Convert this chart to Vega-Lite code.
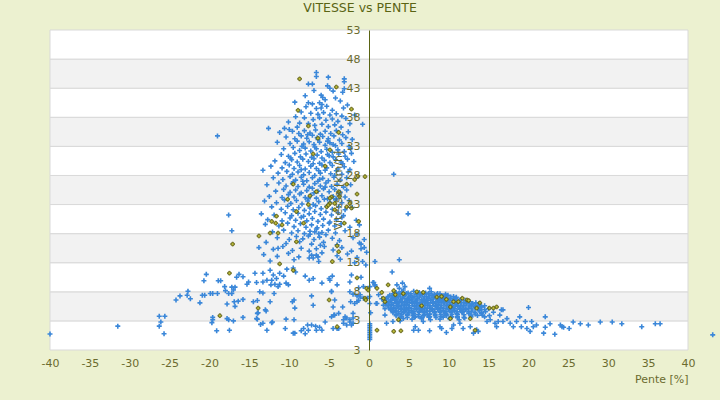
{
  "$schema": "https://vega.github.io/schema/vega-lite/v6.json",
  "width": 638,
  "height": 320,
  "autosize": {"type": "none"},
  "padding": {"left": 50, "top": 30, "right": 32, "bottom": 50},
  "background": "#ecf1d0",
  "title": {
    "text": "VITESSE vs PENTE",
    "font": "DejaVu Sans",
    "fontSize": 12.5,
    "fontWeight": "normal",
    "color": "#5a6414",
    "anchor": "middle",
    "dx": -9,
    "offset": 10
  },
  "config": {
    "view": {"stroke": null},
    "axis": {
      "labelFont": "DejaVu Sans",
      "labelFontSize": 11,
      "labelColor": "#6b6b2e",
      "labelOverlap": false,
      "titleFont": "DejaVu Sans",
      "titleFontSize": 11,
      "titleFontWeight": "normal",
      "titleColor": "#6b6b2e",
      "ticks": false,
      "grid": false
    },
    "axisX": {
      "domain": false,
      "labelFlush": false,
      "labelPadding": 7,
      "titleAnchor": "end",
      "titlePadding": 5
    },
    "axisY": {
      "domainColor": "#5a6414",
      "labelPadding": 9,
      "titlePadding": 3
    }
  },
  "datasets": {
    "bands": [
      {"lo": -2, "hi": 3, "k": "a"}, {"lo": 3, "hi": 8, "k": "b"},
      {"lo": 8, "hi": 13, "k": "a"}, {"lo": 13, "hi": 18, "k": "b"},
      {"lo": 18, "hi": 23, "k": "a"}, {"lo": 23, "hi": 28, "k": "b"},
      {"lo": 28, "hi": 33, "k": "a"}, {"lo": 33, "hi": 38, "k": "b"},
      {"lo": 38, "hi": 43, "k": "a"}, {"lo": 43, "hi": 48, "k": "b"},
      {"lo": 48, "hi": 53, "k": "a"}
    ],
    "blue": [
      {"p":-6.6,"v":45.7},{"p":-6.6,"v":45.0},{"p":-5.1,"v":44.9},{"p":-3.1,"v":44.6},{"p":-3.1,"v":44.1},{"p":-7.6,"v":43.7},{"p":-7.1,"v":43.7},
      {"p":-4.9,"v":43.0},{"p":-4.5,"v":42.5},{"p":-3.3,"v":42.3},{"p":-3.1,"v":42.9},{"p":-8.0,"v":41.7},{"p":-6.0,"v":41.8},{"p":-5.8,"v":41.4},{"p":-5.5,"v":41.0},{"p":-7.6,"v":40.5},{"p":-7.1,"v":40.3},{"p":-6.2,"v":40.5},{"p":-5.9,"v":40.2},{"p":-4.2,"v":41.3},{"p":-3.6,"v":40.8},{"p":-2.7,"v":40.1},{"p":-9.3,"v":40.6},{"p":-6.9,"v":42.6},{"p":-5.2,"v":43.4},
      {"p":-6.6,"v":39.5},{"p":-6.0,"v":39.6},{"p":-7.9,"v":39.8},{"p":-5.3,"v":39.9},{"p":-4.6,"v":39.2},{"p":-3.2,"v":39.6},{"p":-8.5,"v":38.9},{"p":-7.3,"v":38.7},{"p":-6.4,"v":38.5},{"p":-5.7,"v":38.8},{"p":-4.9,"v":38.4},{"p":-4.1,"v":38.6},{"p":-3.4,"v":38.2},{"p":-9.2,"v":38.1},{"p":-8.1,"v":37.9},{"p":-7.0,"v":37.6},{"p":-6.2,"v":37.9},{"p":-5.4,"v":37.5},{"p":-4.6,"v":37.7},{"p":-3.9,"v":37.3},{"p":-2.9,"v":37.8},{"p":-10.1,"v":37.2},{"p":-8.7,"v":37.0},{"p":-7.6,"v":36.9},{"p":-6.8,"v":36.6},{"p":-5.9,"v":36.8},{"p":-5.1,"v":36.4},{"p":-4.3,"v":36.7},{"p":-3.5,"v":36.3},{"p":-2.4,"v":36.9},{"p":-0.8,"v":36.8},{"p":-12.6,"v":36.1},{"p":-10.6,"v":36.1},{"p":-10.0,"v":35.9},{"p":-9.0,"v":36.3},{"p":-1.8,"v":38.4},
      {"p":-11.2,"v":35.4},{"p":-9.6,"v":35.6},{"p":-8.8,"v":35.2},{"p":-8.1,"v":35.7},{"p":-7.4,"v":35.3},{"p":-6.7,"v":35.8},{"p":-6.1,"v":35.1},{"p":-5.5,"v":35.6},{"p":-4.8,"v":35.2},{"p":-4.1,"v":35.7},{"p":-3.3,"v":35.0},{"p":-2.6,"v":35.5},{"p":-10.4,"v":34.6},{"p":-9.3,"v":34.3},{"p":-8.5,"v":34.8},{"p":-7.8,"v":34.4},{"p":-7.1,"v":34.9},{"p":-6.4,"v":34.2},{"p":-5.8,"v":34.7},{"p":-5.1,"v":34.3},{"p":-4.4,"v":34.8},{"p":-3.7,"v":34.1},{"p":-2.9,"v":34.5},{"p":-2.1,"v":34.2},{"p":-11.5,"v":33.7},{"p":-9.9,"v":33.5},{"p":-9.0,"v":33.9},{"p":-8.2,"v":33.4},{"p":-7.5,"v":33.8},{"p":-6.9,"v":33.3},{"p":-6.2,"v":33.7},{"p":-5.5,"v":33.2},{"p":-4.9,"v":33.6},{"p":-4.2,"v":33.1},{"p":-3.4,"v":33.5},{"p":-2.5,"v":33.0},{"p":-10.7,"v":32.6},{"p":-9.5,"v":32.8},{"p":-8.7,"v":32.3},{"p":-8.0,"v":32.7},{"p":-7.3,"v":32.2},{"p":-6.6,"v":32.6},{"p":-6.0,"v":32.1},{"p":-5.3,"v":32.5},{"p":-4.6,"v":32.0},{"p":-3.9,"v":32.4},{"p":-3.1,"v":32.1},{"p":-2.3,"v":32.6},{"p":-7.7,"v":35.0},{"p":-6.5,"v":34.5},{"p":-5.2,"v":33.9},{"p":-8.4,"v":33.0},{"p":-4.5,"v":33.3},{"p":-6.8,"v":32.9},
      {"p":-11.0,"v":31.6},{"p":-10.1,"v":31.3},{"p":-9.3,"v":31.8},{"p":-8.6,"v":31.2},{"p":-7.9,"v":31.7},{"p":-7.2,"v":31.1},{"p":-6.5,"v":31.5},{"p":-5.9,"v":31.0},{"p":-5.2,"v":31.6},{"p":-4.5,"v":31.2},{"p":-3.8,"v":31.7},{"p":-3.0,"v":31.3},{"p":-2.2,"v":31.8},{"p":-11.8,"v":30.5},{"p":-10.5,"v":30.2},{"p":-9.7,"v":30.7},{"p":-9.0,"v":30.3},{"p":-8.3,"v":30.8},{"p":-7.6,"v":30.4},{"p":-6.9,"v":30.9},{"p":-6.2,"v":30.1},{"p":-5.6,"v":30.6},{"p":-4.9,"v":30.2},{"p":-4.2,"v":30.7},{"p":-3.5,"v":30.3},{"p":-2.7,"v":30.8},{"p":-1.9,"v":30.4},{"p":-12.3,"v":29.6},{"p":-10.9,"v":29.3},{"p":-10.0,"v":29.8},{"p":-9.4,"v":29.2},{"p":-8.7,"v":29.7},{"p":-8.0,"v":29.1},{"p":-7.3,"v":29.6},{"p":-6.6,"v":29.2},{"p":-5.9,"v":29.8},{"p":-5.3,"v":29.3},{"p":-4.6,"v":29.7},{"p":-3.9,"v":29.1},{"p":-3.1,"v":29.5},{"p":-2.4,"v":29.0},{"p":-11.4,"v":28.4},{"p":-10.3,"v":28.7},{"p":-9.6,"v":28.2},{"p":-8.9,"v":28.6},{"p":-8.2,"v":28.1},{"p":-7.5,"v":28.5},{"p":-6.8,"v":28.0},{"p":-6.1,"v":28.4},{"p":-5.5,"v":28.9},{"p":-4.8,"v":28.3},{"p":-4.1,"v":28.8},{"p":-3.4,"v":28.2},{"p":-2.6,"v":28.6},{"p":-13.3,"v":28.9},{"p":-7.0,"v":30.0},{"p":-8.5,"v":29.0},{"p":-5.0,"v":31.4},{"p":-6.3,"v":28.8},{"p":-9.8,"v":31.0},{"p":-4.3,"v":28.0},{"p":-3.3,"v":30.0},{"p":3.1,"v":28.2},
      {"p":-12.0,"v":27.6},{"p":-10.8,"v":27.3},{"p":-9.9,"v":27.8},{"p":-9.2,"v":27.2},{"p":-8.5,"v":27.7},{"p":-7.8,"v":27.1},{"p":-7.1,"v":27.6},{"p":-6.4,"v":27.0},{"p":-5.8,"v":27.5},{"p":-5.1,"v":27.1},{"p":-4.4,"v":27.7},{"p":-3.6,"v":27.2},{"p":-2.8,"v":27.6},{"p":-12.8,"v":26.4},{"p":-11.3,"v":26.7},{"p":-10.4,"v":26.2},{"p":-9.6,"v":26.6},{"p":-8.9,"v":26.1},{"p":-8.2,"v":26.5},{"p":-7.5,"v":26.0},{"p":-6.8,"v":26.6},{"p":-6.1,"v":26.2},{"p":-5.4,"v":26.7},{"p":-4.7,"v":26.1},{"p":-4.0,"v":26.5},{"p":-3.2,"v":26.0},{"p":-2.3,"v":26.4},{"p":-11.7,"v":25.3},{"p":-10.7,"v":25.6},{"p":-9.9,"v":25.1},{"p":-9.2,"v":25.5},{"p":-8.5,"v":25.0},{"p":-7.8,"v":25.4},{"p":-7.1,"v":25.8},{"p":-6.4,"v":25.3},{"p":-5.7,"v":25.7},{"p":-5.0,"v":25.2},{"p":-4.3,"v":25.6},{"p":-3.6,"v":25.1},{"p":-2.8,"v":25.5},{"p":-12.5,"v":24.4},{"p":-10.9,"v":24.2},{"p":-10.1,"v":24.7},{"p":-9.4,"v":24.3},{"p":-8.7,"v":24.8},{"p":-8.0,"v":24.2},{"p":-7.3,"v":24.6},{"p":-6.6,"v":24.1},{"p":-5.9,"v":24.5},{"p":-5.2,"v":24.0},{"p":-4.5,"v":24.4},{"p":-3.8,"v":24.9},{"p":-3.0,"v":24.3},{"p":-6.9,"v":25.0},{"p":-8.3,"v":27.0},{"p":-5.5,"v":26.0},{"p":-7.6,"v":24.0},{"p":-9.5,"v":26.9},{"p":-4.1,"v":24.0},{"p":-6.2,"v":27.3},
      {"p":-13.1,"v":23.6},{"p":-11.6,"v":23.3},{"p":-10.6,"v":23.8},{"p":-9.8,"v":23.2},{"p":-9.1,"v":23.7},{"p":-8.4,"v":23.1},{"p":-7.7,"v":23.6},{"p":-7.0,"v":23.0},{"p":-6.3,"v":23.5},{"p":-5.6,"v":23.9},{"p":-4.9,"v":23.4},{"p":-4.2,"v":23.8},{"p":-3.4,"v":23.3},{"p":-2.5,"v":23.7},{"p":-12.2,"v":22.6},{"p":-11.0,"v":22.2},{"p":-10.2,"v":22.7},{"p":-9.5,"v":22.1},{"p":-8.8,"v":22.5},{"p":-8.1,"v":22.0},{"p":-7.4,"v":22.4},{"p":-6.7,"v":22.8},{"p":-6.0,"v":22.3},{"p":-5.3,"v":22.7},{"p":-4.6,"v":22.2},{"p":-3.8,"v":22.6},{"p":-3.0,"v":22.1},{"p":-2.1,"v":22.5},{"p":-13.5,"v":21.4},{"p":-11.9,"v":21.2},{"p":-10.5,"v":21.6},{"p":-9.7,"v":21.1},{"p":-8.9,"v":21.5},{"p":-8.2,"v":21.0},{"p":-7.5,"v":21.4},{"p":-6.8,"v":21.8},{"p":-6.1,"v":21.3},{"p":-5.4,"v":21.7},{"p":-4.7,"v":21.2},{"p":-3.9,"v":21.6},{"p":-3.2,"v":21.1},{"p":-12.7,"v":20.4},{"p":-10.9,"v":20.2},{"p":-9.9,"v":20.7},{"p":-9.2,"v":20.3},{"p":-8.5,"v":20.8},{"p":-7.8,"v":20.2},{"p":-7.1,"v":20.6},{"p":-6.4,"v":20.1},{"p":-5.7,"v":20.5},{"p":-4.9,"v":20.0},{"p":-4.1,"v":20.4},{"p":-3.4,"v":20.8},{"p":-1.6,"v":20.3},{"p":-17.6,"v":21.2},{"p":4.9,"v":21.4},
      {"p":-13.0,"v":19.6},{"p":-11.3,"v":19.3},{"p":-10.2,"v":19.8},{"p":-9.4,"v":19.2},{"p":-8.6,"v":19.7},{"p":-7.9,"v":19.1},{"p":-7.2,"v":19.5},{"p":-6.5,"v":19.0},{"p":-5.8,"v":19.4},{"p":-5.0,"v":19.8},{"p":-4.3,"v":19.3},{"p":-3.5,"v":19.7},{"p":-2.4,"v":19.1},{"p":-1.2,"v":19.5},{"p":-12.1,"v":18.3},{"p":-10.7,"v":18.6},{"p":-9.7,"v":18.1},{"p":-8.9,"v":18.5},{"p":-8.1,"v":18.0},{"p":-7.4,"v":18.4},{"p":-6.6,"v":18.8},{"p":-5.9,"v":18.2},{"p":-5.1,"v":18.6},{"p":-4.2,"v":18.1},{"p":-3.0,"v":18.5},{"p":-1.5,"v":18.0},{"p":-11.5,"v":17.3},{"p":-10.0,"v":17.0},{"p":-9.1,"v":17.5},{"p":-8.3,"v":17.1},{"p":-7.6,"v":17.6},{"p":-6.9,"v":17.0},{"p":-6.2,"v":17.4},{"p":-5.4,"v":17.8},{"p":-4.6,"v":17.2},{"p":-3.7,"v":16.8},{"p":-2.0,"v":17.3},{"p":-0.6,"v":17.0},{"p":-12.9,"v":16.5},{"p":-10.4,"v":16.3},{"p":-8.7,"v":16.6},{"p":-7.2,"v":16.2},{"p":-5.7,"v":16.5},{"p":-4.0,"v":16.1},{"p":-1.0,"v":16.2},{"p":-17.2,"v":18.5},{"p":-6.8,"v":18.3},{"p":-7.4,"v":17.9},{"p":-6.3,"v":18.0},
      {"p":-13.8,"v":15.6},{"p":-12.0,"v":15.3},{"p":-10.8,"v":15.8},{"p":-9.6,"v":15.1},{"p":-8.5,"v":15.5},{"p":-7.5,"v":15.0},{"p":-6.6,"v":15.4},{"p":-5.6,"v":15.8},{"p":-4.5,"v":15.2},{"p":-3.4,"v":15.6},{"p":-2.2,"v":15.0},{"p":-1.0,"v":15.4},{"p":-0.3,"v":14.8},{"p":-13.2,"v":14.4},{"p":-11.5,"v":14.1},{"p":-10.1,"v":14.6},{"p":-8.8,"v":14.0},{"p":-7.2,"v":14.3},{"p":-5.9,"v":14.7},{"p":-4.0,"v":14.2},{"p":-2.7,"v":14.5},{"p":-1.5,"v":13.9},{"p":-12.4,"v":13.3},{"p":-9.4,"v":13.5},{"p":-6.3,"v":13.2},{"p":-3.6,"v":13.6},{"p":-0.8,"v":13.2},
      {"p":-19.0,"v":34.8},{"p":-1.2,"v":16.4},{"p":-0.6,"v":15.6},{"p":-1.8,"v":13.0},{"p":-0.4,"v":12.6},{"p":-6.6,"v":14.3},{"p":-6.1,"v":16.0},{"p":-7.0,"v":13.8},{"p":-6.4,"v":14.0},{"p":-7.5,"v":13.8},{"p":-11.4,"v":15.5},
      {"p":-22.7,"v":8.1},{"p":-22.8,"v":7.4},{"p":-22.4,"v":6.8},{"p":-20.9,"v":7.4},{"p":-20.6,"v":7.4},{"p":-19.9,"v":7.7},{"p":-19.6,"v":7.7},{"p":-19.0,"v":7.7},{"p":-21.2,"v":6.1},{"p":-20.4,"v":11.0},{"p":-20.7,"v":9.9},{"p":-18.9,"v":9.9},{"p":-18.6,"v":9.9},{"p":-18.1,"v":8.9},{"p":-18.0,"v":8.2},{"p":-17.2,"v":8.8},{"p":-17.0,"v":8.3},{"p":-16.8,"v":8.8},{"p":-17.6,"v":7.7},{"p":-17.2,"v":7.7},{"p":-16.3,"v":11.0},{"p":-16.6,"v":10.5},{"p":-15.8,"v":10.6},{"p":-15.3,"v":9.3},{"p":-15.8,"v":6.7},{"p":-16.9,"v":6.3},{"p":-16.4,"v":6.4},
      {"p":-17.8,"v":5.9},{"p":-14.5,"v":6.3},{"p":-14.0,"v":6.5},{"p":-16.8,"v":5.5},{"p":-19.6,"v":3.6},{"p":-19.6,"v":3.2},{"p":-19.7,"v":2.7},{"p":-17.8,"v":3.4},{"p":-17.6,"v":3.2},{"p":-17.0,"v":3.0},{"p":-19.1,"v":1.3},{"p":-17.5,"v":1.4},{"p":-15.8,"v":3.6},{"p":-14.3,"v":11.2},{"p":-13.3,"v":11.2},{"p":-12.4,"v":11.7},{"p":-12.0,"v":10.9},{"p":-12.2,"v":10.0},{"p":-11.2,"v":11.2},{"p":-10.7,"v":10.7},{"p":-13.3,"v":9.7},{"p":-12.8,"v":10.0},{"p":-11.6,"v":10.3},{"p":-15.1,"v":9.7},{"p":-14.1,"v":9.6},{"p":-12.3,"v":9.2},{"p":-11.8,"v":9.3},{"p":-11.4,"v":8.9},{"p":-11.2,"v":9.3},{"p":-10.4,"v":9.5},{"p":-10.1,"v":9.2},{"p":-13.7,"v":8.0},{"p":-13.3,"v":7.8},{"p":-11.9,"v":7.7},{"p":-12.4,"v":6.3},{"p":-12.9,"v":4.7},{"p":-14.0,"v":4.3},{"p":-14.0,"v":3.3},{"p":-13.6,"v":2.4},{"p":-13.3,"v":2.6},{"p":-12.1,"v":2.8},{"p":-12.8,"v":1.4},{"p":-10.4,"v":3.3},{"p":-9.4,"v":3.2},{"p":-9.3,"v":5.2},{"p":-9.6,"v":6.3},{"p":-9.4,"v":6.6},{"p":-10.5,"v":1.7},{"p":-9.3,"v":0.9},{"p":-8.5,"v":1.3},{"p":-8.2,"v":1.7},{"p":-7.7,"v":2.3},{"p":-7.2,"v":2.3},{"p":-6.7,"v":2.1},{"p":-6.6,"v":1.4},{"p":-7.6,"v":1.4},
      {"p":-10.3,"v":11.9},{"p":-9.5,"v":12.1},{"p":-9.2,"v":11.4},{"p":-8.0,"v":10.7},{"p":-7.5,"v":10.0},{"p":-7.0,"v":10.3},{"p":-5.9,"v":9.5},{"p":-5.0,"v":10.3},{"p":-4.6,"v":10.7},{"p":-2.4,"v":9.7},{"p":-2.2,"v":10.9},{"p":-1.3,"v":8.7},{"p":-1.1,"v":7.5},{"p":-0.7,"v":8.9},{"p":-2.4,"v":8.0},{"p":-2.0,"v":7.6},{"p":-1.5,"v":7.3},{"p":-1.1,"v":7.1},{"p":-0.7,"v":6.9},{"p":-0.2,"v":6.9},{"p":-1.3,"v":6.5},
      {"p":-13.0,"v":4.9},{"p":-13.9,"v":4.4},{"p":-14.1,"v":3.4},{"p":-12.2,"v":2.7},{"p":-9.5,"v":0.9},{"p":-8.0,"v":0.8},{"p":-6.2,"v":1.9},{"p":-5.9,"v":1.4},{"p":-5.5,"v":2.8},{"p":-4.7,"v":3.7},{"p":-4.3,"v":4.0},{"p":-3.8,"v":1.7},{"p":-3.2,"v":3.2},{"p":-2.8,"v":3.5},{"p":-2.4,"v":2.8},{"p":-2.2,"v":2.3},{"p":-2.0,"v":3.5},{"p":-7.2,"v":7.3},{"p":-7.0,"v":5.7},{"p":-4.5,"v":5.4},{"p":-4.3,"v":6.6},{"p":-4.7,"v":8.1},{"p":-4.9,"v":10.0},
      {"p":-1.0,"v":10.5},{"p":0.5,"v":9.6},{"p":0.75,"v":9.0},{"p":-4.0,"v":9.2},{"p":-4.7,"v":8.0},{"p":-2.3,"v":6.3},{"p":-1.8,"v":6.0},{"p":-1.5,"v":6.3},{"p":-3.3,"v":5.4},{"p":-3.8,"v":4.3},{"p":-4.4,"v":4.0},{"p":-3.0,"v":3.7},{"p":-2.4,"v":3.2},{"p":-2.0,"v":2.6},{"p":-2.8,"v":2.3},{"p":-3.2,"v":2.6},{"p":-2.0,"v":4.3},{"p":-4.5,"v":1.7},{"p":-4.0,"v":1.7},
      {"p":-40.0,"v":0.75},{"p":-31.5,"v":2.1},{"p":-26.3,"v":3.8},{"p":-26.1,"v":2.8},{"p":-25.6,"v":3.8},{"p":-26.3,"v":2.1},{"p":-25.7,"v":0.8},{"p":-24.2,"v":6.6},{"p":-23.7,"v":7.3},
      {"p":0.75,"v":13.2},{"p":3.8,"v":13.5},{"p":2.9,"v":11.4},{"p":0.6,"v":9.6},{"p":0.75,"v":9.2},{"p":1.2,"v":7.5},{"p":1.0,"v":6.0},{"p":3.5,"v":9.2},{"p":4.2,"v":9.5},{"p":4.5,"v":8.9},{"p":3.8,"v":8.6},{"p":4.3,"v":8.3},{"p":7.6,"v":8.6},
      {"p":2.0,"v":4.0},{"p":2.2,"v":2.6},{"p":3.0,"v":2.9},{"p":3.9,"v":3.0},{"p":5.8,"v":2.0},{"p":5.6,"v":1.4},{"p":6.2,"v":1.4},{"p":6.8,"v":2.9},{"p":7.6,"v":1.3},{"p":8.9,"v":2.0},{"p":9.1,"v":1.7},{"p":9.7,"v":1.0},{"p":10.4,"v":1.7},{"p":10.6,"v":2.3},{"p":11.4,"v":2.6},{"p":11.8,"v":1.7},{"p":12.7,"v":2.0},{"p":13.1,"v":0.9},{"p":13.5,"v":1.5},{"p":13.7,"v":1.2},
      {"p":14.1,"v":4.3},{"p":14.5,"v":3.7},{"p":14.8,"v":2.9},{"p":15.2,"v":3.2},{"p":15.8,"v":2.6},{"p":16.0,"v":2.0},{"p":16.2,"v":2.9},{"p":16.6,"v":4.9},{"p":16.8,"v":4.9},{"p":16.4,"v":4.0},{"p":16.8,"v":2.9},{"p":17.3,"v":3.4},{"p":17.7,"v":2.6},{"p":18.1,"v":2.0},{"p":18.5,"v":2.9},{"p":18.9,"v":3.7},{"p":19.1,"v":2.0},{"p":19.6,"v":2.9},{"p":19.8,"v":1.7},{"p":20.4,"v":2.9},{"p":20.6,"v":2.0},{"p":20.0,"v":5.3},{"p":20.2,"v":1.2},{"p":21.0,"v":2.3},{"p":22.1,"v":3.7},{"p":22.1,"v":1.9},{"p":21.9,"v":0.9},{"p":22.7,"v":2.5},{"p":23.3,"v":0.7},{"p":24.0,"v":2.3},{"p":24.2,"v":2.0},{"p":24.4,"v":1.9},{"p":25.1,"v":1.7},{"p":25.6,"v":2.8},{"p":26.5,"v":2.5},{"p":27.5,"v":2.3},{"p":29.0,"v":2.8},{"p":30.5,"v":2.8},{"p":31.7,"v":2.5},{"p":34.2,"v":2.0},{"p":35.9,"v":2.5},{"p":36.5,"v":2.5},{"p":43.1,"v":0.6},
      {"p":0.1,"v":2.5},{"p":0.1,"v":2.2},{"p":0.1,"v":1.9},{"p":0.1,"v":1.6},{"p":0.1,"v":1.3},{"p":0.1,"v":1.0},{"p":0.1,"v":0.7},{"p":0.1,"v":0.4},{"p":0.1,"v":0.1},{"p":0.1,"v":-0.2},{"p":0.1,"v":7.2},{"p":0.1,"v":6.0},{"p":0.1,"v":8.9},{"p":0.9,"v":6.0},{"p":0.2,"v":4.4},
      {"p":3.4,"v":7.9},{"p":4.1,"v":8.0},{"p":4.9,"v":7.8},{"p":5.6,"v":8.1},{"p":6.3,"v":7.9},{"p":7.1,"v":7.8},{"p":7.8,"v":8.0},{"p":8.6,"v":7.7},
      {"p":3.0,"v":7.65},{"p":3.75,"v":7.7},{"p":4.5,"v":7.6},{"p":5.25,"v":7.65},{"p":6.0,"v":7.7},{"p":6.7,"v":7.6},{"p":7.45,"v":7.65},{"p":8.2,"v":7.6},{"p":8.9,"v":7.65},{"p":9.6,"v":7.6},
      {"p":2.6,"v":7.4},{"p":3.2,"v":7.3},{"p":3.9,"v":7.5},{"p":4.5,"v":7.4},{"p":5.2,"v":7.3},{"p":5.9,"v":7.5},{"p":6.5,"v":7.4},{"p":7.2,"v":7.2},{"p":7.9,"v":7.4},{"p":8.5,"v":7.5},{"p":9.2,"v":7.3},{"p":9.9,"v":7.4},{"p":10.6,"v":7.2},
      {"p":2.4,"v":7.15},{"p":3.05,"v":7.1},{"p":3.7,"v":7.15},{"p":4.35,"v":7.2},{"p":5.0,"v":7.1},{"p":5.65,"v":7.15},{"p":6.3,"v":7.1},{"p":6.95,"v":7.15},{"p":7.6,"v":7.1},{"p":8.25,"v":7.15},{"p":8.9,"v":7.1},{"p":9.55,"v":7.15},{"p":10.25,"v":7.1},{"p":10.95,"v":7.05},
      {"p":2.2,"v":6.9},{"p":2.9,"v":6.8},{"p":3.5,"v":7.0},{"p":4.2,"v":6.9},{"p":4.8,"v":6.8},{"p":5.5,"v":7.0},{"p":6.1,"v":6.9},{"p":6.8,"v":6.7},{"p":7.4,"v":6.9},{"p":8.1,"v":7.0},{"p":8.8,"v":6.8},{"p":9.5,"v":6.9},{"p":10.2,"v":6.8},{"p":10.9,"v":6.9},{"p":11.6,"v":6.7},
      {"p":2.05,"v":6.65},{"p":2.7,"v":6.6},{"p":3.35,"v":6.65},{"p":4.0,"v":6.7},{"p":4.65,"v":6.6},{"p":5.3,"v":6.65},{"p":5.95,"v":6.6},{"p":6.6,"v":6.65},{"p":7.25,"v":6.6},{"p":7.9,"v":6.65},{"p":8.6,"v":6.6},{"p":9.3,"v":6.65},{"p":10.0,"v":6.6},{"p":10.7,"v":6.65},{"p":11.4,"v":6.6},{"p":12.1,"v":6.55},
      {"p":1.9,"v":6.4},{"p":2.5,"v":6.3},{"p":3.2,"v":6.5},{"p":3.8,"v":6.4},{"p":4.5,"v":6.3},{"p":5.1,"v":6.5},{"p":5.8,"v":6.4},{"p":6.4,"v":6.2},{"p":7.1,"v":6.4},{"p":7.7,"v":6.5},{"p":8.4,"v":6.3},{"p":9.1,"v":6.4},{"p":9.8,"v":6.3},{"p":10.5,"v":6.5},{"p":11.2,"v":6.4},{"p":11.9,"v":6.2},{"p":12.6,"v":6.3},{"p":13.4,"v":6.1},
      {"p":2.2,"v":6.15},{"p":2.85,"v":6.1},{"p":3.5,"v":6.15},{"p":4.15,"v":6.2},{"p":4.8,"v":6.1},{"p":5.45,"v":6.15},{"p":6.1,"v":6.1},{"p":6.75,"v":6.15},{"p":7.4,"v":6.1},{"p":8.05,"v":6.15},{"p":8.75,"v":6.1},{"p":9.45,"v":6.15},{"p":10.15,"v":6.1},{"p":10.85,"v":6.15},{"p":11.55,"v":6.1},{"p":12.25,"v":6.05},{"p":13.0,"v":6.0},{"p":13.8,"v":5.95},
      {"p":2.1,"v":5.9},{"p":2.8,"v":5.8},{"p":3.4,"v":6.0},{"p":4.1,"v":5.9},{"p":4.7,"v":5.8},{"p":5.4,"v":6.0},{"p":6.0,"v":5.9},{"p":6.7,"v":5.7},{"p":7.3,"v":5.9},{"p":8.0,"v":6.0},{"p":8.7,"v":5.8},{"p":9.4,"v":5.9},{"p":10.1,"v":5.8},{"p":10.8,"v":5.9},{"p":11.5,"v":5.7},{"p":12.2,"v":5.9},{"p":12.9,"v":5.8},{"p":13.7,"v":5.7},{"p":14.5,"v":5.6},
      {"p":2.45,"v":5.65},{"p":3.1,"v":5.6},{"p":3.75,"v":5.65},{"p":4.4,"v":5.7},{"p":5.05,"v":5.6},{"p":5.7,"v":5.65},{"p":6.35,"v":5.6},{"p":7.0,"v":5.65},{"p":7.65,"v":5.6},{"p":8.35,"v":5.65},{"p":9.05,"v":5.6},{"p":9.75,"v":5.65},{"p":10.45,"v":5.6},{"p":11.15,"v":5.65},{"p":11.85,"v":5.6},{"p":12.55,"v":5.55},{"p":13.3,"v":5.5},{"p":14.1,"v":5.45},
      {"p":2.4,"v":5.4},{"p":3.1,"v":5.3},{"p":3.7,"v":5.5},{"p":4.4,"v":5.4},{"p":5.0,"v":5.3},{"p":5.7,"v":5.5},{"p":6.3,"v":5.4},{"p":7.0,"v":5.2},{"p":7.6,"v":5.4},{"p":8.3,"v":5.5},{"p":9.0,"v":5.3},{"p":9.7,"v":5.4},{"p":10.4,"v":5.3},{"p":11.1,"v":5.5},{"p":11.8,"v":5.4},{"p":12.5,"v":5.2},{"p":13.3,"v":5.3},{"p":14.1,"v":5.4},{"p":15.0,"v":5.1},
      {"p":2.75,"v":5.15},{"p":3.4,"v":5.1},{"p":4.05,"v":5.15},{"p":4.7,"v":5.2},{"p":5.35,"v":5.1},{"p":6.0,"v":5.15},{"p":6.65,"v":5.1},{"p":7.3,"v":5.15},{"p":7.95,"v":5.1},{"p":8.65,"v":5.15},{"p":9.35,"v":5.1},{"p":10.05,"v":5.15},{"p":10.75,"v":5.1},{"p":11.45,"v":5.15},{"p":12.15,"v":5.1},{"p":12.9,"v":5.05},{"p":13.7,"v":5.0},{"p":14.5,"v":4.95},
      {"p":2.7,"v":4.9},{"p":3.3,"v":4.8},{"p":4.0,"v":5.0},{"p":4.6,"v":4.9},{"p":5.3,"v":4.8},{"p":5.9,"v":5.0},{"p":6.6,"v":4.9},{"p":7.2,"v":4.7},{"p":7.9,"v":4.9},{"p":8.6,"v":5.0},{"p":9.3,"v":4.8},{"p":10.0,"v":4.9},{"p":10.7,"v":4.8},{"p":11.4,"v":5.0},{"p":12.1,"v":4.9},{"p":12.9,"v":4.7},{"p":13.8,"v":4.8},{"p":14.6,"v":4.6},{"p":15.6,"v":4.5},
      {"p":3.05,"v":4.65},{"p":3.7,"v":4.6},{"p":4.35,"v":4.65},{"p":5.0,"v":4.7},{"p":5.65,"v":4.6},{"p":6.3,"v":4.65},{"p":6.95,"v":4.6},{"p":7.6,"v":4.65},{"p":8.25,"v":4.6},{"p":8.95,"v":4.65},{"p":9.65,"v":4.6},{"p":10.35,"v":4.65},{"p":11.05,"v":4.6},{"p":11.75,"v":4.65},{"p":12.5,"v":4.55},{"p":13.3,"v":4.5},{"p":14.15,"v":4.45},
      {"p":3.0,"v":4.4},{"p":3.7,"v":4.3},{"p":4.3,"v":4.5},{"p":5.0,"v":4.4},{"p":5.6,"v":4.3},{"p":6.3,"v":4.5},{"p":6.9,"v":4.4},{"p":7.6,"v":4.2},{"p":8.2,"v":4.4},{"p":8.9,"v":4.5},{"p":9.6,"v":4.3},{"p":10.3,"v":4.4},{"p":11.0,"v":4.3},{"p":11.7,"v":4.5},{"p":12.5,"v":4.3},{"p":13.3,"v":4.2},{"p":14.2,"v":4.0},{"p":15.1,"v":3.9},
      {"p":3.4,"v":4.15},{"p":4.1,"v":4.1},{"p":4.8,"v":4.15},{"p":5.5,"v":4.2},{"p":6.2,"v":4.1},{"p":6.9,"v":4.15},{"p":7.6,"v":4.1},{"p":8.3,"v":4.15},{"p":9.0,"v":4.1},{"p":9.7,"v":4.15},{"p":10.4,"v":4.1},{"p":11.1,"v":4.15},{"p":11.9,"v":4.05},{"p":12.8,"v":4.0},{"p":13.6,"v":3.95},
      {"p":3.4,"v":3.9},{"p":4.1,"v":3.8},{"p":4.8,"v":4.0},{"p":5.5,"v":3.9},{"p":6.2,"v":3.8},{"p":6.9,"v":3.9},{"p":7.6,"v":3.7},{"p":8.3,"v":3.9},{"p":9.0,"v":3.8},{"p":9.7,"v":3.9},{"p":10.4,"v":3.7},{"p":11.1,"v":3.8},{"p":11.9,"v":3.6},{"p":12.8,"v":3.7},
      {"p":3.9,"v":3.65},{"p":4.8,"v":3.6},{"p":5.7,"v":3.65},{"p":6.6,"v":3.6},{"p":7.5,"v":3.65},{"p":8.4,"v":3.6},{"p":9.3,"v":3.65},{"p":10.2,"v":3.6},{"p":11.1,"v":3.55},{"p":12.0,"v":3.5},
      {"p":4.3,"v":3.4},{"p":5.4,"v":3.3},{"p":6.6,"v":3.4},{"p":7.7,"v":3.2},{"p":8.9,"v":3.3},{"p":10.1,"v":3.4},{"p":11.3,"v":3.2},
      {"p":3.0,"v":7.1},{"p":4.7,"v":7.7},{"p":6.0,"v":7.6},{"p":7.5,"v":7.7},{"p":9.6,"v":7.2},{"p":5.0,"v":6.6},{"p":7.0,"v":6.2},{"p":9.0,"v":6.6},{"p":11.0,"v":6.1},{"p":3.6,"v":5.6},{"p":6.5,"v":5.1},{"p":8.5,"v":5.6},{"p":10.6,"v":5.2},{"p":12.8,"v":5.6},{"p":4.5,"v":4.6},{"p":7.3,"v":4.1},{"p":9.5,"v":4.2},{"p":11.6,"v":4.6},{"p":13.9,"v":5.0},{"p":5.8,"v":3.7},{"p":2.0,"v":5.1},{"p":1.8,"v":5.7},{"p":1.6,"v":6.8}
    ],
    "olive": [
      {"p":-8.7,"v":44.6},{"p":-4.1,"v":43.2},{"p":-8.9,"v":39.2},{"p":-2.2,"v":39.4},{"p":-3.8,"v":35.4},{"p":-7.6,"v":36.5},{"p":-6.4,"v":34.4},{"p":-7.0,"v":31.7},{"p":-4.9,"v":32.4},{"p":-9.5,"v":26.5},{"p":-2.8,"v":26.5},{"p":-0.5,"v":27.8},{"p":-5.5,"v":29.6},{"p":-4.7,"v":24.3},{"p":-1.4,"v":27.9},{"p":-1.8,"v":27.3},{"p":-3.8,"v":25.2},{"p":-3.7,"v":24.4},{"p":-5.3,"v":22.6},{"p":-4.9,"v":23.2},{"p":-2.4,"v":23.2},{"p":-2.8,"v":22.6},{"p":-1.5,"v":24.8},{"p":-2.2,"v":22.4},{"p":-1.3,"v":20.1},{"p":-3.1,"v":19.8},{"p":-4.0,"v":15.9},{"p":-4.6,"v":13.2},{"p":-11.6,"v":21.0},{"p":-12.2,"v":20.1},{"p":-11.7,"v":19.8},{"p":-10.9,"v":19.5},{"p":-10.2,"v":23.9},{"p":-13.8,"v":17.6},{"p":-12.4,"v":18.1},{"p":-11.4,"v":18.1},{"p":-9.1,"v":21.8},{"p":-8.2,"v":19.8},{"p":-7.6,"v":23.0},{"p":-7.4,"v":24.5},{"p":-6.6,"v":25.2},{"p":-4.9,"v":24.1},{"p":-5.1,"v":22.9},{"p":-4.3,"v":23.2},{"p":-4.3,"v":22.1},{"p":-3.8,"v":14.9},
      {"p":-11.2,"v":12.8},{"p":-17.5,"v":11.2},{"p":-17.1,"v":16.2},{"p":-13.9,"v":5.2},{"p":-18.7,"v":3.9},{"p":-9.5,"v":11.7},{"p":-9.1,"v":16.6},{"p":-5.0,"v":6.6},{"p":-1.5,"v":10.4},{"p":-0.3,"v":8.6},{"p":-4.0,"v":2.0},
      {"p":1.0,"v":8.6},{"p":1.6,"v":7.9},{"p":2.4,"v":9.2},{"p":3.1,"v":8.2},{"p":3.3,"v":7.5},{"p":4.3,"v":7.7},{"p":6.0,"v":8.0},{"p":6.8,"v":7.9},{"p":8.5,"v":7.1},{"p":9.1,"v":7.2},{"p":9.7,"v":6.7},{"p":10.6,"v":6.3},{"p":11.2,"v":6.3},{"p":11.7,"v":6.9},{"p":12.3,"v":6.6},{"p":12.5,"v":6.5},{"p":10.2,"v":5.4},{"p":6.6,"v":5.6},{"p":12.7,"v":3.4},{"p":10.2,"v":3.4},{"p":1.0,"v":1.4},{"p":3.1,"v":1.2},{"p":4.0,"v":1.3},{"p":3.7,"v":3.2},{"p":2.0,"v":6.3},{"p":1.8,"v":6.9},{"p":13.9,"v":6.1},{"p":16.0,"v":5.4},{"p":15.6,"v":5.2},{"p":15.1,"v":5.2},{"p":13.5,"v":5.2},{"p":13.3,"v":1.4},{"p":-0.1,"v":8.3},{"p":-0.5,"v":6.9},{"p":-0.4,"v":6.6}
    ]
  },
  "layer": [
    {
      "data": {"name": "bands"},
      "mark": {"type": "rect", "stroke": "#d9d9d9", "strokeWidth": 1},
      "encoding": {
        "x": {
          "datum": -40,
          "type": "quantitative",
          "scale": {"domain": [-40, 40], "nice": false, "zero": false},
          "axis": {
            "title": "Pente [%]",
            "values": [-40, -35, -30, -25, -20, -15, -10, -5, 0, 5, 10, 15, 20, 25, 30, 35, 40],
            "labelExpr": "'' + datum.value"
          }
        },
        "x2": {"datum": 40},
        "y": {
          "field": "lo",
          "type": "quantitative",
          "scale": {"domain": [-2, 53], "nice": false, "zero": false},
          "axis": {
            "title": "Vitesse [km/h]",
            "values": [-2, 3, 8, 13, 18, 23, 28, 33, 38, 43, 48, 53],
            "labelExpr": "datum.value < 0 ? '3' : '' + datum.value",
            "offset": -319,
            "zindex": 1
          }
        },
        "y2": {"field": "hi"},
        "color": {"field": "k", "type": "nominal", "scale": {"range": ["#ffffff", "#f2f2f2"]}, "legend": null}
      }
    },
    {
      "data": {"name": "blue"},
      "mark": {"type": "point", "shape": "M-1,0L1,0M0,-1L0,1", "filled": false, "color": "#3a87d9", "strokeWidth": 1.6, "size": 25, "opacity": 1},
      "encoding": {
        "x": {
          "field": "p",
          "type": "quantitative",
          "axis": {
            "title": "Pente [%]",
            "values": [-40, -35, -30, -25, -20, -15, -10, -5, 0, 5, 10, 15, 20, 25, 30, 35, 40],
            "labelExpr": "'' + datum.value"
          }
        },
        "y": {
          "field": "v",
          "type": "quantitative",
          "axis": {
            "title": "Vitesse [km/h]",
            "values": [-2, 3, 8, 13, 18, 23, 28, 33, 38, 43, 48, 53],
            "labelExpr": "datum.value < 0 ? '3' : '' + datum.value",
            "offset": -319,
            "zindex": 1
          }
        }
      }
    },
    {
      "data": {"name": "olive"},
      "mark": {"type": "point", "shape": "cross", "filled": true, "fill": "#c2c23c", "stroke": "#5c5c12", "strokeWidth": 0.8, "size": 14, "opacity": 1},
      "encoding": {
        "x": {
          "field": "p",
          "type": "quantitative",
          "axis": {
            "title": "Pente [%]",
            "values": [-40, -35, -30, -25, -20, -15, -10, -5, 0, 5, 10, 15, 20, 25, 30, 35, 40],
            "labelExpr": "'' + datum.value"
          }
        },
        "y": {
          "field": "v",
          "type": "quantitative",
          "axis": {
            "title": "Vitesse [km/h]",
            "values": [-2, 3, 8, 13, 18, 23, 28, 33, 38, 43, 48, 53],
            "labelExpr": "datum.value < 0 ? '3' : '' + datum.value",
            "offset": -319,
            "zindex": 1
          }
        }
      }
    }
  ]
}
